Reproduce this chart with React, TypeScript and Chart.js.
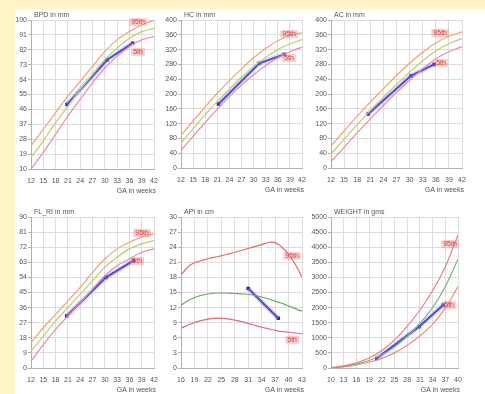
import React, { useEffect, useRef } from "react";
import { Chart, registerables } from "chart.js";
Chart.register(...registerables);

const FONT = '"Liberation Sans", Arial, sans-serif';
const TEXT = "#555";

// ---- BPD ----
const GA_12_42 = [12, 15, 18, 21, 24, 27, 30, 33, 36, 39, 42];
const BPD_P95 = [24, 34, 44, 54, 63, 72, 81, 88, 93, 97, 100];
const BPD_P50 = [17, 27, 38, 48, 58, 67, 76, 83, 89, 93, 95];
const BPD_P5 = [10, 20, 31, 42, 52, 62, 71, 78, 84, 88, 90];
const BPD_PAT_GA = [20.8, 30.6, 36.8];
const BPD_PAT = [49, 76, 86];

// ---- HC ----
const HC_P95 = [88, 127, 165, 202, 236, 268, 298, 323, 344, 358, 366];
const HC_P50 = [68, 106, 144, 180, 214, 246, 274, 299, 320, 335, 347];
const HC_P5 = [48, 86, 123, 159, 193, 224, 252, 277, 298, 314, 327];
const HC_PAT_GA = [21.3, 31.4, 37.6];
const HC_PAT = [173, 283, 307];

// ---- AC ----
const AC_P95 = [60, 100, 140, 178, 214, 250, 283, 313, 338, 356, 368];
const AC_P50 = [38, 78, 117, 155, 191, 226, 259, 290, 316, 336, 350];
const AC_P5 = [17, 56, 95, 133, 169, 204, 237, 268, 295, 314, 328];
const AC_PAT_GA = [20.5, 30.3, 35.6];
const AC_PAT = [146, 249, 280];

// ---- FL ----
const FL_P95 = [15, 24, 32, 40, 48, 57, 65, 71, 75, 78, 80];
const FL_P50 = [10, 19, 28, 36, 44, 52, 60, 66, 71, 74, 76];
const FL_P5 = [4, 14, 23, 31, 39, 47, 55, 61, 65, 69, 71];
const FL_PAT_GA = [20.7, 30.3, 37.0];
const FL_PAT = [31, 54, 64];

// ---- API ----
const API_GA = [16, 18, 20, 22, 24, 26, 28, 30, 32, 34, 36, 37, 38, 39, 40, 41, 42, 43];
const API_P95 = [18.5, 20.4, 21.2, 21.7, 22.1, 22.5, 23.0, 23.5, 24.0, 24.5, 25.0, 24.9, 24.4, 23.6, 22.6, 21.3, 19.8, 18.0];
const API_P50 = [12.5, 13.6, 14.3, 14.7, 14.9, 14.9, 14.8, 14.7, 14.5, 14.1, 13.6, 13.3, 13.0, 12.7, 12.3, 12.0, 11.6, 11.3];
const API_P5 = [7.9, 8.7, 9.3, 9.7, 9.9, 9.8, 9.5, 9.1, 8.6, 8.1, 7.7, 7.5, 7.3, 7.2, 7.1, 7.0, 6.9, 6.8];
const API_PAT_GA = [31.0, 37.7];
const API_PAT = [15.8, 9.9];

// ---- WEIGHT ----
const W_GA = [10, 13, 16, 19, 22, 25, 28, 31, 34, 37, 40];
const W_P95 = [10, 70, 170, 330, 580, 930, 1380, 1920, 2560, 3350, 4400];
const W_P50 = [5, 50, 130, 250, 430, 700, 1050, 1480, 2000, 2700, 3600];
const W_P5 = [0, 35, 100, 190, 320, 500, 750, 1060, 1450, 1980, 2700];
const W_PAT_GA = [20.8, 30.8, 36.5];
const W_PAT = [320, 1370, 2086];

const PAL_A = ["#f2a07a", "#b8cf72", "#e98aa6"];
const PAL_API = ["#e86a6a", "#6aa85a", "#e06a78"];
const PAL_W = ["#f07c7c", "#78b878", "#ee8a8a"];

type Spec = {
  title: string;
  rect: { l: number; t: number; r: number; b: number };
  ga: number[];
  p95: number[];
  p50: number[];
  p5: number[];
  patGa: number[];
  pat: number[];
  x: [number, number, number];
  y: [number, number, number];
  pal: string[];
  lab95: [number, number];
  lab5: [number, number];
};

const SPECS: Spec[] = [
  { title: "BPD in mm", rect: { l: 31, t: 20, r: 154, b: 169 }, ga: GA_12_42, p95: BPD_P95, p50: BPD_P50, p5: BPD_P5, patGa: BPD_PAT_GA, pat: BPD_PAT, x: [12, 42, 3], y: [10, 100, 9], pal: PAL_A, lab95: [38.1, 98.8], lab5: [38.1, 80.7] },
  { title: "HC in mm", rect: { l: 181, t: 20, r: 302, b: 168 }, ga: GA_12_42, p95: HC_P95, p50: HC_P50, p5: HC_P5, patGa: HC_PAT_GA, pat: HC_PAT, x: [12, 42, 3], y: [0, 400, 40], pal: PAL_A, lab95: [38.8, 362], lab5: [38.8, 297] },
  { title: "AC in mm", rect: { l: 331, t: 20, r: 462, b: 168 }, ga: GA_12_42, p95: AC_P95, p50: AC_P50, p5: AC_P5, patGa: AC_PAT_GA, pat: AC_PAT, x: [12, 42, 3], y: [0, 400, 40], pal: PAL_A, lab95: [37.0, 365], lab5: [37.2, 284] },
  { title: "FL_RI in mm", rect: { l: 31, t: 217, r: 154, b: 368 }, ga: GA_12_42, p95: FL_P95, p50: FL_P50, p5: FL_P5, patGa: FL_PAT_GA, pat: FL_PAT, x: [12, 42, 3], y: [0, 90, 9], pal: PAL_A, lab95: [39.1, 80.5], lab5: [37.9, 63.8] },
  { title: "API in cm", rect: { l: 181, t: 217, r: 302, b: 368 }, ga: API_GA, p95: API_P95, p50: API_P50, p5: API_P5, patGa: API_PAT_GA, pat: API_PAT, x: [16, 43, 3], y: [0, 30, 3], pal: PAL_API, lab95: [40.8, 22.3], lab5: [40.8, 5.6] },
  { title: "WEIGHT in gms", rect: { l: 331, t: 217, r: 458, b: 368 }, ga: W_GA, p95: W_P95, p50: W_P50, p5: W_P5, patGa: W_PAT_GA, pat: W_PAT, x: [10, 40, 3], y: [0, 5000, 500], pal: PAL_W, lab95: [38.1, 4106], lab5: [37.9, 2086] },
];

const M = { L: 24, T: 14, R: 12, B: 30 };

function geom(r: Spec["rect"]) {
  return { x: r.l - M.L, y: r.t - M.T, w: r.r - r.l + M.L + M.R, h: r.b - r.t + M.T + M.B };
}

const pts = (xs: number[], ys: number[]) => xs.map((x, i) => ({ x, y: ys[i] }));

function buildConfig(s: Spec): any {
  const curve = (data: number[], color: string) => ({
    data: pts(s.ga, data),
    borderColor: color,
    borderWidth: 1.2,
    pointRadius: 0,
    cubicInterpolationMode: "monotone",
    fill: false,
  });
  const annot = {
    id: "annot",
    afterDraw(chart: any) {
      const ctx = chart.ctx;
      const ca = chart.chartArea;
      const xs = chart.scales.x;
      const ys = chart.scales.y;
      ctx.save();
      ctx.font = `7px ${FONT}`;
      ctx.fillStyle = TEXT;
      ctx.textAlign = "left";
      ctx.textBaseline = "bottom";
      ctx.fillText(s.title, ca.left + 3, ca.top - 1);
      ctx.textAlign = "right";
      ctx.textBaseline = "middle";
      ctx.fillText("GA in weeks", ca.right + 2, ca.bottom + 22);
      const labs: [string, [number, number]][] = [["95th", s.lab95], ["5th", s.lab5]];
      for (const [t, p] of labs) {
        const px = xs.getPixelForValue(p[0]);
        const py = ys.getPixelForValue(p[1]);
        const w = ctx.measureText(t).width;
        ctx.fillStyle = "rgba(240,140,140,0.4)";
        ctx.fillRect(px - w / 2 - 2, py - 4, w + 4, 8);
        ctx.fillStyle = "#e03a3a";
        ctx.textAlign = "center";
        ctx.textBaseline = "middle";
        ctx.fillText(t, px, py);
      }
      ctx.restore();
    },
  };
  return {
    type: "line",
    data: {
      datasets: [
        curve(s.p95, s.pal[0]),
        curve(s.p50, s.pal[1]),
        curve(s.p5, s.pal[2]),
        {
          data: pts(s.patGa, s.pat),
          borderColor: "rgba(160,150,255,0.35)",
          borderWidth: 5,
          pointRadius: 0,
          fill: false,
        },
        {
          data: pts(s.patGa, s.pat),
          borderColor: "#2626b8",
          borderWidth: 2,
          pointStyle: "rect",
          pointRadius: 2.5,
          pointBackgroundColor: "#2626b8",
          pointBorderWidth: 0,
          fill: false,
        },
      ],
    },
    options: {
      responsive: false,
      animation: false,
      layout: { padding: { left: 0, top: M.T, right: M.R, bottom: 0 } },
      plugins: { legend: { display: false }, tooltip: { enabled: false } },
      scales: {
        x: {
          type: "linear",
          min: s.x[0],
          max: s.x[1],
          ticks: { stepSize: s.x[2], autoSkip: false, maxRotation: 0, padding: 8, color: TEXT, font: { size: 7, family: FONT }, callback: (v: number) => String(v) },
          grid: { color: "#dcdcdc", drawTicks: false, lineWidth: 1 },
          border: { color: "#b0b0b0" },
          afterFit(sc: any) {
            sc.height = M.B;
            sc.paddingLeft = 0;
            sc.paddingRight = 0;
          },
        },
        y: {
          type: "linear",
          min: s.y[0],
          max: s.y[1],
          ticks: { stepSize: s.y[2], autoSkip: false, padding: 1, color: TEXT, font: { size: 7, family: FONT }, callback: (v: number) => String(v) },
          grid: { color: "#dcdcdc", tickLength: 3, tickColor: "#b0b0b0", lineWidth: 1 },
          border: { color: "#b0b0b0" },
          afterFit(sc: any) {
            sc.width = M.L;
            sc.paddingTop = 0;
            sc.paddingBottom = 0;
          },
        },
      },
    },
    plugins: [annot],
  };
}

export default function App() {
  const refs = useRef<(HTMLCanvasElement | null)[]>([]);
  useEffect(() => {
    const charts = SPECS.map((s, i) => new Chart(refs.current[i] as HTMLCanvasElement, buildConfig(s)));
    return () => charts.forEach((c) => c.destroy());
  }, []);
  return (
    <div style={{ position: "absolute", left: 0, top: 0, width: 485, height: 394, background: "#fff5c6", overflow: "hidden" }}>
      <div style={{ position: "absolute", left: 15, top: 9, width: 470, height: 385, background: "#ffffff" }} />
      {SPECS.map((s, i) => {
        const g = geom(s.rect);
        return (
          <canvas
            key={i}
            ref={(el) => {
              refs.current[i] = el;
            }}
            width={g.w}
            height={g.h}
            style={{ position: "absolute", left: g.x, top: g.y, width: g.w, height: g.h }}
          />
        );
      })}
    </div>
  );
}
